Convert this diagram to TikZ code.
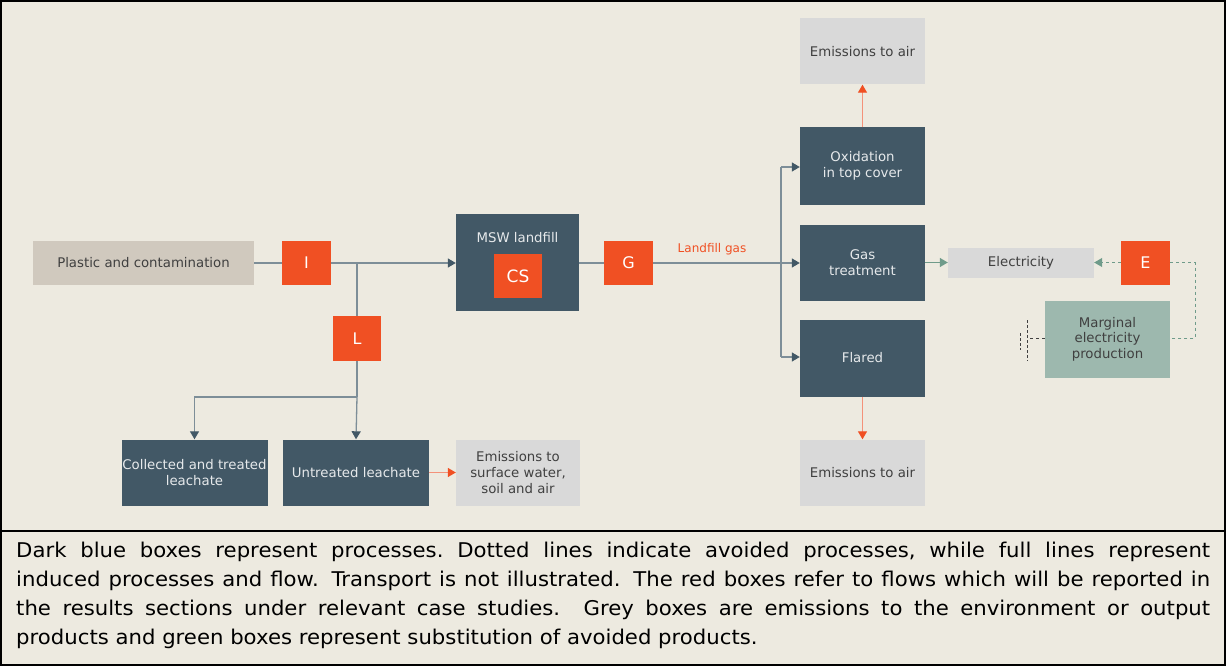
\documentclass[tikz,border=0pt]{standalone}
\usepackage{fontspec}
\setmainfont{DejaVu Sans}
\newfontfamily\captionfont[FakeStretch=1.045]{DejaVu Sans}
\usetikzlibrary{arrows.meta}
\definecolor{bg}{HTML}{EDEAE0}
\definecolor{dblue}{HTML}{425866}
\definecolor{flag}{HTML}{F05023}
\definecolor{flaglt}{HTML}{F4927A}
\definecolor{greybox}{HTML}{D9D9D9}
\definecolor{beige}{HTML}{D0C9BE}
\definecolor{sage}{HTML}{9DB8AE}
\definecolor{sageline}{HTML}{6F9B8A}
\definecolor{conn}{HTML}{7D8E98}
\definecolor{txtdark}{HTML}{404040}
\definecolor{txtlight}{HTML}{E6E9EB}
\tikzset{
  box/.style={draw=none, inner sep=0pt, align=center, font=\fontsize{13.3}{16}\selectfont},
  procbox/.style={box, fill=dblue, text=txtlight},
  outbox/.style={box, fill=greybox, text=txtdark},
  flagbox/.style={box, fill=flag, text=white, minimum width=49pt, minimum height=44pt, font=\fontsize{16}{18}\selectfont},
  flowarrow/.style={conn, line width=1.3pt, -{Triangle[length=8pt,width=9pt,color=dblue]}},
  flowline/.style={conn, line width=1.3pt},
  emisarrow/.style={flaglt, line width=1.3pt, -{Triangle[length=8pt,width=9pt,color=flag]}},
  elecarrow/.style={sageline, line width=1.3pt, -{Triangle[length=8pt,width=9pt,color=sageline]}},
  avoidline/.style={sageline, line width=1pt, dash pattern=on 3pt off 3pt},
}
\begin{document}
\begin{tikzpicture}[x=1pt,y=-1pt]
  % page and frames
  \fill[bg] (0,0) rectangle (1226,666);
  \useasboundingbox (0,0) rectangle (1226,666);
  \draw[black, line width=2pt] (1,1) rectangle (1225,665);
  \draw[black, line width=2pt] (1,531) -- (1225,531);

  % input side
  \node[box, fill=beige, text=txtdark, minimum width=221pt, minimum height=44pt] (plastic) at (143.5,263) {Plastic and contamination};
  \node[flagbox] (I) at (306.5,263) {I};
  \node[flagbox, minimum width=48pt, minimum height=45pt] (L) at (357,338.5) {L};

  % leachate branch
  \node[procbox, minimum width=146pt, minimum height=66pt] (coll) at (194.5,472.5) {Collected and treated\\leachate};
  \node[procbox, minimum width=146pt, minimum height=66pt] (untr) at (356,472.5) {Untreated leachate};
  \node[outbox, minimum width=124pt, minimum height=66pt] (emsw) at (518,472.5) {Emissions to\\surface water,\\soil and air};

  % landfill
  \node[procbox, minimum width=123pt, minimum height=97pt] (msw) at (517.5,262) {};
  \node[box, text=txtlight] (mswlabel) at (517.5,237.5) {MSW landfill};
  \node[flagbox, minimum width=48pt, minimum height=44pt, font=\fontsize{17}{19}\selectfont] (cs) at (518,276) {CS};
  \node[flagbox] (G) at (628.5,263) {G};
  \node[text=flag, font=\fontsize{12}{14}\selectfont, inner sep=0pt] (lfg) at (712,249) {Landfill gas};

  % gas routes
  \node[procbox, minimum width=125pt, minimum height=77pt] (ox) at (862.5,166) {Oxidation\\in top cover};
  \node[procbox, minimum width=125pt, minimum height=76pt] (gas) at (862.5,262.5) {Gas\\treatment};
  \node[procbox, minimum width=125pt, minimum height=77pt] (fl) at (862.5,358) {Flared};
  \node[outbox, minimum width=125pt, minimum height=66pt] (airtop) at (862.5,51.5) {Emissions to air};
  \node[outbox, minimum width=125pt, minimum height=66pt] (airbot) at (862.5,472.5) {Emissions to air};

  % electricity
  \node[outbox, minimum width=146pt, minimum height=30pt] (elec) at (1021,262.5) {Electricity};
  \node[flagbox] (E) at (1145.5,262.5) {E};
  \node[box, fill=sage, text=txtdark, minimum width=125pt, minimum height=77pt, font=\fontsize{13.3}{15.5}\selectfont] (marg) at (1107.5,339) {Marginal\\electricity\\production};

  % junction points
  \coordinate (jI) at (357,263);
  \coordinate (jL) at (357,397);
  \coordinate (jC) at (194.5,397);
  \coordinate (jOx) at (781,167);
  \coordinate (jFl) at (781,357);
  \coordinate (eR) at (1195,262.5);
  \coordinate (mR) at (1195,338);
  \coordinate (mL) at (1027,338);

  % main flow
  \draw[flowline] (plastic.east) -- (I.west);
  \draw[flowarrow] (I.east) -- (I.east -| msw.west);
  \draw[flowline] (jI) -- (L.north);
  \draw[flowline] (L.south) -- (jL);
  \draw[flowarrow] (jL) -- (untr.north);
  \draw[flowarrow] (jL) -- (jC) -- (coll.north);
  \draw[emisarrow] (untr.east) -- (emsw.west);

  \draw[flowline] (msw.east |- G.west) -- (G.west);
  \draw[flowarrow] (G.east) -- (G.east -| gas.west);
  \draw[flowline] (jOx) -- (jFl);
  \draw[flowarrow] (jOx) -- (jOx -| ox.west);
  \draw[flowarrow] (jFl) -- (jFl -| fl.west);
  \draw[emisarrow] (ox.north) -- (airtop.south);
  \draw[emisarrow] (fl.south) -- (airbot.north);

  \draw[elecarrow] (gas.east) -- (elec.west);
  \draw[avoidline, -{Triangle[length=8pt,width=9pt,color=sageline]}] (E.west) -- (elec.east);
  \draw[avoidline] (E.east) -- (eR) -- (mR) -- (marg.east |- mR);
  \draw[txtdark, line width=0.8pt, dash pattern=on 3pt off 3pt] (marg.west |- mL) -- (mL);
  \draw[txtdark, line width=0.8pt, dash pattern=on 3pt off 2pt] (1027,320) -- (1027,361);
  \draw[txtdark, line width=0.8pt, dash pattern=on 3pt off 2pt] (1020,333) -- (1020,350);

  % caption
  \node[anchor=north west, inner sep=0pt, text=black, align=left, font=\captionfont\fontsize{20.3}{28.8}\selectfont] (caption) at (16,542) {\frenchspacing
    \makebox[1194pt][s]{Dark blue boxes represent processes. Dotted lines indicate avoided processes, while full lines represent}\\
    \makebox[1194pt][s]{induced processes and flow. Transport is not illustrated. The red boxes refer to flows which will be reported in}\\
    \makebox[1194pt][s]{the results sections under relevant case studies. Grey boxes are emissions to the environment or output}\\
    products and green boxes represent substitution of avoided products.};
\end{tikzpicture}
\end{document}
